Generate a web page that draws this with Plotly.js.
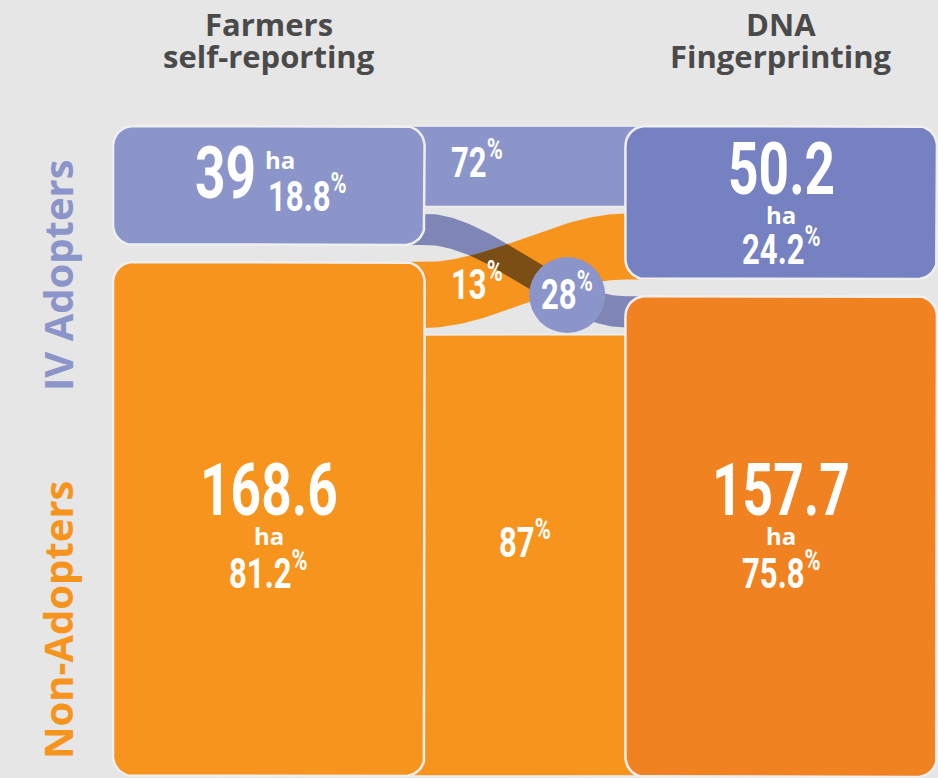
<!DOCTYPE html>
<html><head><meta charset="utf-8">
<script src="https://cdn.plot.ly/plotly-3.0.1.min.js"></script>
<style>
html,body{margin:0;padding:0;background:#e6e6e6;}
#chart{width:938px;height:778px;}
text.annotation-text[style*="Roboto"]{transform-box:fill-box;transform-origin:center;transform:scaleX(0.74);}
</style>
</head><body><div id="chart"></div>
<script>
// ---------------- data ----------------
const columnTitles = [['Farmers', 'self-reporting'], ['DNA', 'Fingerprinting']];
const groupNames = ['IV Adopters', 'Non-Adopters'];
const selfReportHa = [39, 168.6];
const selfReportPct = [18.8, 81.2];
const dnaHa = [50.2, 157.7];
const dnaPct = [24.2, 75.8];
const flowFromIVPct = [72, 28];   // self-reported IV adopters -> DNA IV adopters / DNA non-adopters
const flowFromNonPct = [13, 87];  // self-reported non-adopters -> DNA IV adopters / DNA non-adopters

// ---------------- layout constants ----------------
const W = 938, H = 778;
const XR = [-1.044, 2.599];
const pxX = W / (XR[1] - XR[0]);
const TOP_PX = 126, BOT_PX = 777;
const NODE_GAP = 5.6, FLOW_GAP = 2.3;
const colX = [0, 1.99], BOX_W = 1.21, RADIUS = 20, EXT = 0.15;
const totalL = selfReportHa[0] + selfReportHa[1], totalR = dnaHa[0] + dnaHa[1];
const s = (BOT_PX - TOP_PX) / (Math.max(totalL, totalR) + NODE_GAP);
const YR = [(H - TOP_PX) / s, -TOP_PX / s];

const C = {
  bg: '#e6e6e6', ivL: '#8b95c9', ivR: '#7581c0', ivFlow: '#7f86b5', nonL: '#f7941d', nonR: '#f18222',
  edge: '#efefef', head: '#4a4a4a', white: '#ffffff'
};
const NUM = 'Roboto', SANS = 'Open Sans';

// ---------------- geometry from data ----------------
function stackNodes(vals) {
  return [[0, vals[0]], [vals[0] + NODE_GAP, vals[0] + NODE_GAP + vals[1]]];
}
const nodesL = stackNodes(selfReportHa);
const nodesR = stackNodes(dnaHa);
const flowPct = [flowFromIVPct, flowFromNonPct];

const flows = {};
[0, 1].forEach(i => {
  const [t, b] = nodesL[i];
  const avail = (b - t) - FLOW_GAP;
  let y = t;
  [0, 1].forEach(j => {
    const h = flowPct[i][j] / 100 * avail;
    flows[i + '' + j] = {src: i, dst: j, pct: flowPct[i][j], h, tL: y, bL: y + h};
    y += h + FLOW_GAP;
  });
});
[0, 1].forEach(j => {
  let y = nodesR[j][0];
  [0, 1].forEach(i => {
    const f = flows[i + '' + j];
    f.tR = y; f.bR = y + f.h;
    y += f.h + FLOW_GAP;
  });
});

function smooth(u) { return u * u * (3 - 2 * u); }
const xa = colX[0] + BOX_W / 2, xb = colX[1] - BOX_W / 2;
function bandPath(f, n) {
  const xs = [], ys = [];
  xs.push(xa - EXT); ys.push(f.tL);
  for (let k = 0; k <= n; k++) { const u = k / n; xs.push(xa + (xb - xa) * u); ys.push(f.tL + (f.tR - f.tL) * smooth(u)); }
  xs.push(xb + EXT); ys.push(f.tR);
  xs.push(xb + EXT); ys.push(f.bR);
  for (let k = n; k >= 0; k--) { const u = k / n; xs.push(xa + (xb - xa) * u); ys.push(f.bL + (f.bR - f.bL) * smooth(u)); }
  xs.push(xa - EXT); ys.push(f.bL);
  xs.push(xs[0]); ys.push(ys[0]);
  return {xs, ys};
}
function bandAt(f, u) {
  const cL = (f.tL + f.bL) / 2, cR = (f.tR + f.bR) / 2;
  return {x: xa + (xb - xa) * u, y: cL + (cR - cL) * smooth(u)};
}
function roundRect(x0, x1, y0, y1, r) {
  const rx = r / pxX, ry = r / s, xs = [], ys = [], n = 12;
  const corners = [[x0 + rx, y0 + ry, 180], [x1 - rx, y0 + ry, 270], [x1 - rx, y1 - ry, 0], [x0 + rx, y1 - ry, 90]];
  corners.forEach(([cx, cy, a0]) => {
    for (let k = 0; k <= n; k++) {
      const a = (a0 + 90 * k / n) * Math.PI / 180;
      xs.push(cx + rx * Math.cos(a)); ys.push(cy + ry * Math.sin(a));
    }
  });
  xs.push(xs[0]); ys.push(ys[0]);
  return {xs, ys};
}

const traces = [];
function polyTrace(p, fill, lineColor, lineW) {
  traces.push({type: 'scatter', mode: 'lines', x: p.xs, y: p.ys, fill: 'toself', fillcolor: fill,
    line: {color: lineColor || fill, width: lineW || 0}, hoverinfo: 'skip', showlegend: false});
}
polyTrace(bandPath(flows['11'], 60), C.nonL, C.edge, 1.5);
polyTrace(bandPath(flows['00'], 60), C.ivL, C.edge, 1.5);
polyTrace(bandPath(flows['10'], 80), C.nonL);
const BLEND_INDEX = traces.length;
polyTrace(bandPath(flows['01'], 80), C.ivFlow);
const nodeColors = [[C.ivL, C.nonL], [C.ivR, C.nonR]];
[nodesL, nodesR].forEach((nodes, c) => {
  nodes.forEach((nd, g) => {
    polyTrace(roundRect(colX[c] - BOX_W / 2, colX[c] + BOX_W / 2, nd[0], nd[1], RADIUS), nodeColors[c][g], C.edge, 2.5);
  });
});
const circ = bandAt(flows['01'], 0.71);
traces.push({type: 'scatter', mode: 'markers', x: [circ.x], y: [circ.y],
  marker: {size: 76, color: C.ivL, line: {width: 0}}, hoverinfo: 'skip', showlegend: false});

// ---------------- text ----------------
const ann = [];
function A(text, x, y, size, family, o) {
  o = o || {};
  ann.push({text, x, y, xref: o.xref || 'x', yref: o.yref || 'y', showarrow: false,
    xanchor: o.xanchor || 'center', yanchor: 'middle', xshift: o.xshift || 0, yshift: o.yshift || 0,
    textangle: o.textangle || 0,
    font: {family, size, color: o.color || C.white, weight: 700}});
}
const pctTxt = v => v + '<sup>%</sup>';
const supFix = size => 0.08 * size;
const BIG = 72, MID = 42;
columnTitles.forEach((t, c) => {
  A(t[0], colX[c], 1 - 24 / H, 31, SANS, {yref: 'paper', color: C.head});
  A(t[1], colX[c], 1 - 56 / H, 31, SANS, {yref: 'paper', color: C.head});
});
A(groupNames[0], 57 / W, 1 - 275 / H, 40, SANS, {xref: 'paper', yref: 'paper', color: C.ivL, textangle: -90});
A(groupNames[1], 57 / W, 1 - 620 / H, 40, SANS, {xref: 'paper', yref: 'paper', color: C.nonL, textangle: -90});

const cIVL = (nodesL[0][0] + nodesL[0][1]) / 2;
A(String(selfReportHa[0]), colX[0], cIVL, BIG, NUM, {xanchor: 'right', xshift: -11, yshift: 12});
A('ha', colX[0], cIVL, 24, SANS, {xanchor: 'left', xshift: -6, yshift: 26});
A(pctTxt(selfReportPct[0].toFixed(1)), colX[0], cIVL, MID, NUM, {xanchor: 'left', xshift: -3, yshift: -11 + supFix(MID)});
const cIVR = (nodesR[0][0] + nodesR[0][1]) / 2;
A(String(dnaHa[0]), colX[1], cIVR, BIG, NUM, {yshift: 34});
A('ha', colX[1], cIVR, 24, SANS, {yshift: -12});
A(pctTxt(dnaPct[0].toFixed(1)), colX[1], cIVR, MID, NUM, {yshift: -47 + supFix(MID)});
const cNon = ((nodesL[1][0] + nodesL[1][1]) / 2 + (nodesR[1][0] + nodesR[1][1]) / 2) / 2;
[[selfReportHa[1], selfReportPct[1]], [dnaHa[1], dnaPct[1]]].forEach(([ha, pc], c) => {
  A(String(ha), colX[c], cNon, BIG, NUM, {yshift: 38});
  A('ha', colX[c], cNon, 24, SANS, {yshift: -8});
  A(pctTxt(pc.toFixed(1)), colX[c], cNon, MID, NUM, {yshift: -46 + supFix(MID)});
});
const xLbl = 477 / pxX + XR[0];
const uLbl = (xLbl - xa) / (xb - xa);
A(pctTxt(flows['00'].pct), xLbl, bandAt(flows['00'], uLbl).y, MID, NUM, {yshift: 3 + supFix(MID)});
A(pctTxt(flows['10'].pct), xLbl, bandAt(flows['10'], uLbl).y, MID, NUM, {yshift: 2 + supFix(MID)});
A(pctTxt(flows['11'].pct), (xa + xb) / 2, bandAt(flows['11'], 0.5).y, MID, NUM, {yshift: 12 + supFix(MID)});
A(pctTxt(flows['01'].pct), circ.x, circ.y, MID, NUM, {yshift: supFix(MID)});

const layout = {
  width: W, height: H, margin: {l: 0, r: 0, t: 0, b: 0},
  paper_bgcolor: C.bg, plot_bgcolor: C.bg,
  xaxis: {range: XR, visible: false, fixedrange: true},
  yaxis: {range: YR, visible: false, fixedrange: true},
  showlegend: false, hovermode: false, annotations: ann
};
Plotly.newPlot('chart', traces, layout, {displayModeBar: false, staticPlot: true}).then(gd => {
  const groups = gd.querySelectorAll('.scatterlayer .trace');
  if (groups[BLEND_INDEX]) groups[BLEND_INDEX].style.mixBlendMode = 'multiply';
});
</script></body></html>
